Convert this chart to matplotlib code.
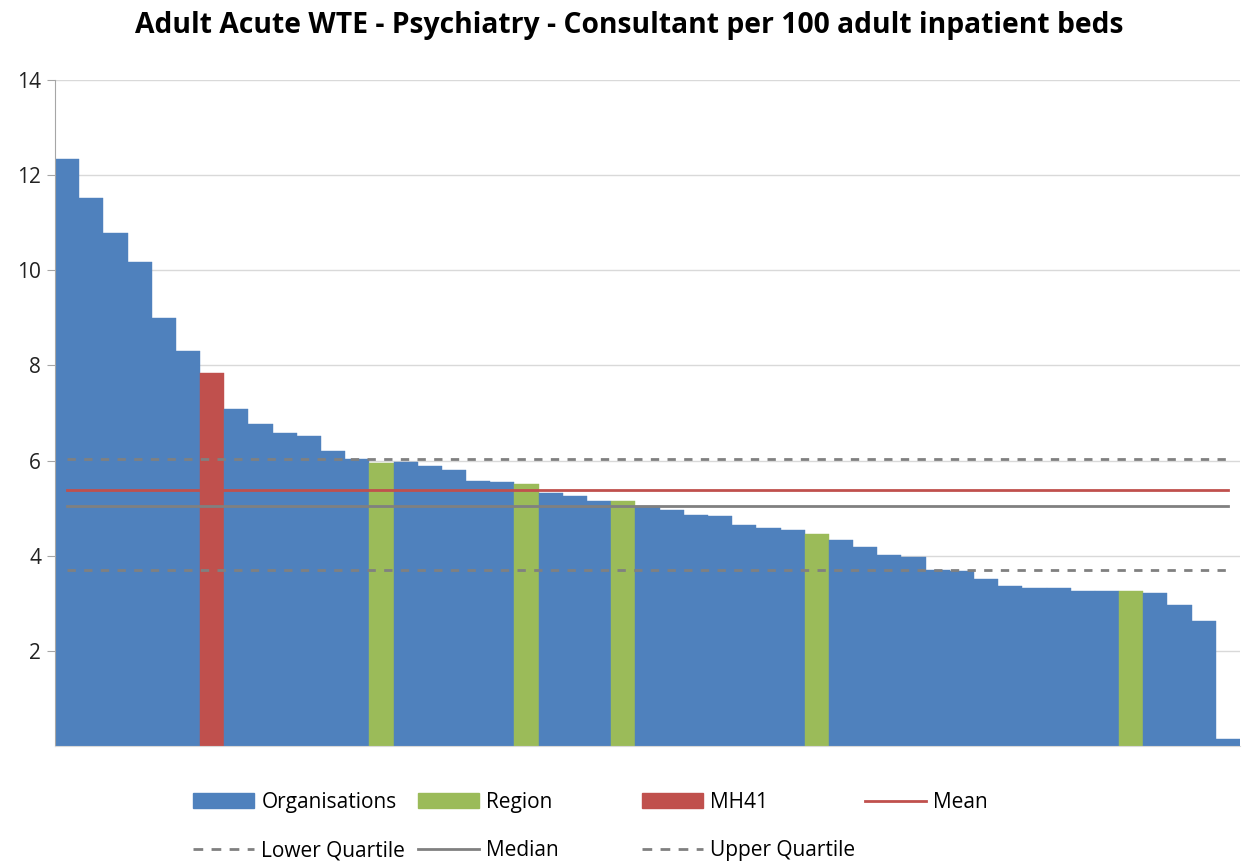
import numpy as np
import matplotlib.pyplot as plt
from matplotlib.patches import Patch
from matplotlib.lines import Line2D

plt.rcParams.update({
    'font.family': ['Open Sans', 'DejaVu Sans'],
    'figure.dpi': 100,
})

BLUE = '#4F81BD'
GREEN = '#9BBB59'
RED = '#C0504D'
GREY = '#808080'

# wte per 100 beds, sorted descending
values = [12.33, 11.53, 10.78, 10.18, 9.00, 8.30, 7.84, 7.08, 6.76, 6.58,
          6.52, 6.21, 6.04, 5.95, 5.96, 5.88, 5.81, 5.58, 5.54, 5.50,
          5.32, 5.26, 5.16, 5.16, 5.04, 4.97, 4.86, 4.83, 4.64, 4.59,
          4.54, 4.46, 4.34, 4.18, 4.02, 3.97, 3.71, 3.67, 3.51, 3.37,
          3.32, 3.32, 3.25, 3.25, 3.25, 3.22, 2.97, 2.62, 0.15]
groups = ['org'] * len(values)
for i in [13, 19, 23, 31, 44]:
    groups[i] = 'region'
groups[6] = 'mh41'

mean_val = 5.39
median_val = 5.04
lower_q = 3.70
upper_q = 6.04

colour_map = {'org': BLUE, 'region': GREEN, 'mh41': RED}
colours = [colour_map[g] for g in groups]

fig = plt.figure(figsize=(12.48, 8.65))
ax = fig.add_axes([55/1248, 1 - 746/865, (1240 - 55)/1248, (746 - 80)/865])

x = np.arange(len(values))
ax.bar(x, values, width=1.0, color=colours, edgecolor=colours, linewidth=0.3, zorder=2)

xl = [x[0], x[-1]]
ax.plot(xl, [upper_q] * 2, color=GREY, lw=2, ls=(0, (3, 3)), zorder=3)
ax.plot(xl, [mean_val] * 2, color=RED, lw=2, zorder=3)
ax.plot(xl, [median_val] * 2, color=GREY, lw=2, zorder=3)
ax.plot(xl, [lower_q] * 2, color=GREY, lw=2, ls=(0, (3, 3)), zorder=3)

ax.set_xlim(-0.5, len(values) - 0.5)
ax.set_ylim(0, 14)
ax.set_yticks(range(2, 15, 2))
ax.set_xticks([])
ax.yaxis.grid(True, color='#d9d9d9', lw=1, zorder=0)
ax.set_axisbelow(True)
for s in ['top', 'right']:
    ax.spines[s].set_visible(False)
ax.spines['left'].set_color('#a6a6a6')
ax.spines['bottom'].set_color('#d9d9d9')
ax.tick_params(axis='y', length=6, color='#a6a6a6', labelsize=15, pad=4, labelcolor='#222222')

fig.text(0.504, 1 - 25/865, 'Adult Acute WTE - Psychiatry - Consultant per 100 adult inpatient beds',
         ha='center', va='center', fontsize=20.3, fontweight='bold')

h_org = Patch(color=BLUE)
h_reg = Patch(color=GREEN)
h_mh = Patch(color=RED)
h_mean = Line2D([], [], color=RED, lw=2)
h_lq = Line2D([], [], color=GREY, lw=2, ls=(0, (3.5, 3)))
h_med = Line2D([], [], color=GREY, lw=2)
h_uq = Line2D([], [], color=GREY, lw=2, ls=(0, (3.5, 3)))

cols = [
    (193, [h_org, h_lq], ['Organisations', 'Lower Quartile']),
    (418, [h_reg, h_med], ['Region', 'Median']),
    (642, [h_mh, h_uq], ['MH41', 'Upper Quartile']),
    (865, [h_mean], ['Mean']),
]
for px, hs, ls in cols:
    fig.legend(hs, ls, loc='upper left', bbox_to_anchor=(px/1248, 1 - 792/865),
               frameon=False, fontsize=15, handlelength=2.95, handleheight=0.7,
               handletextpad=0.33, labelspacing=1.3, borderpad=0, borderaxespad=0)

fig.savefig('out.png', dpi=100)
